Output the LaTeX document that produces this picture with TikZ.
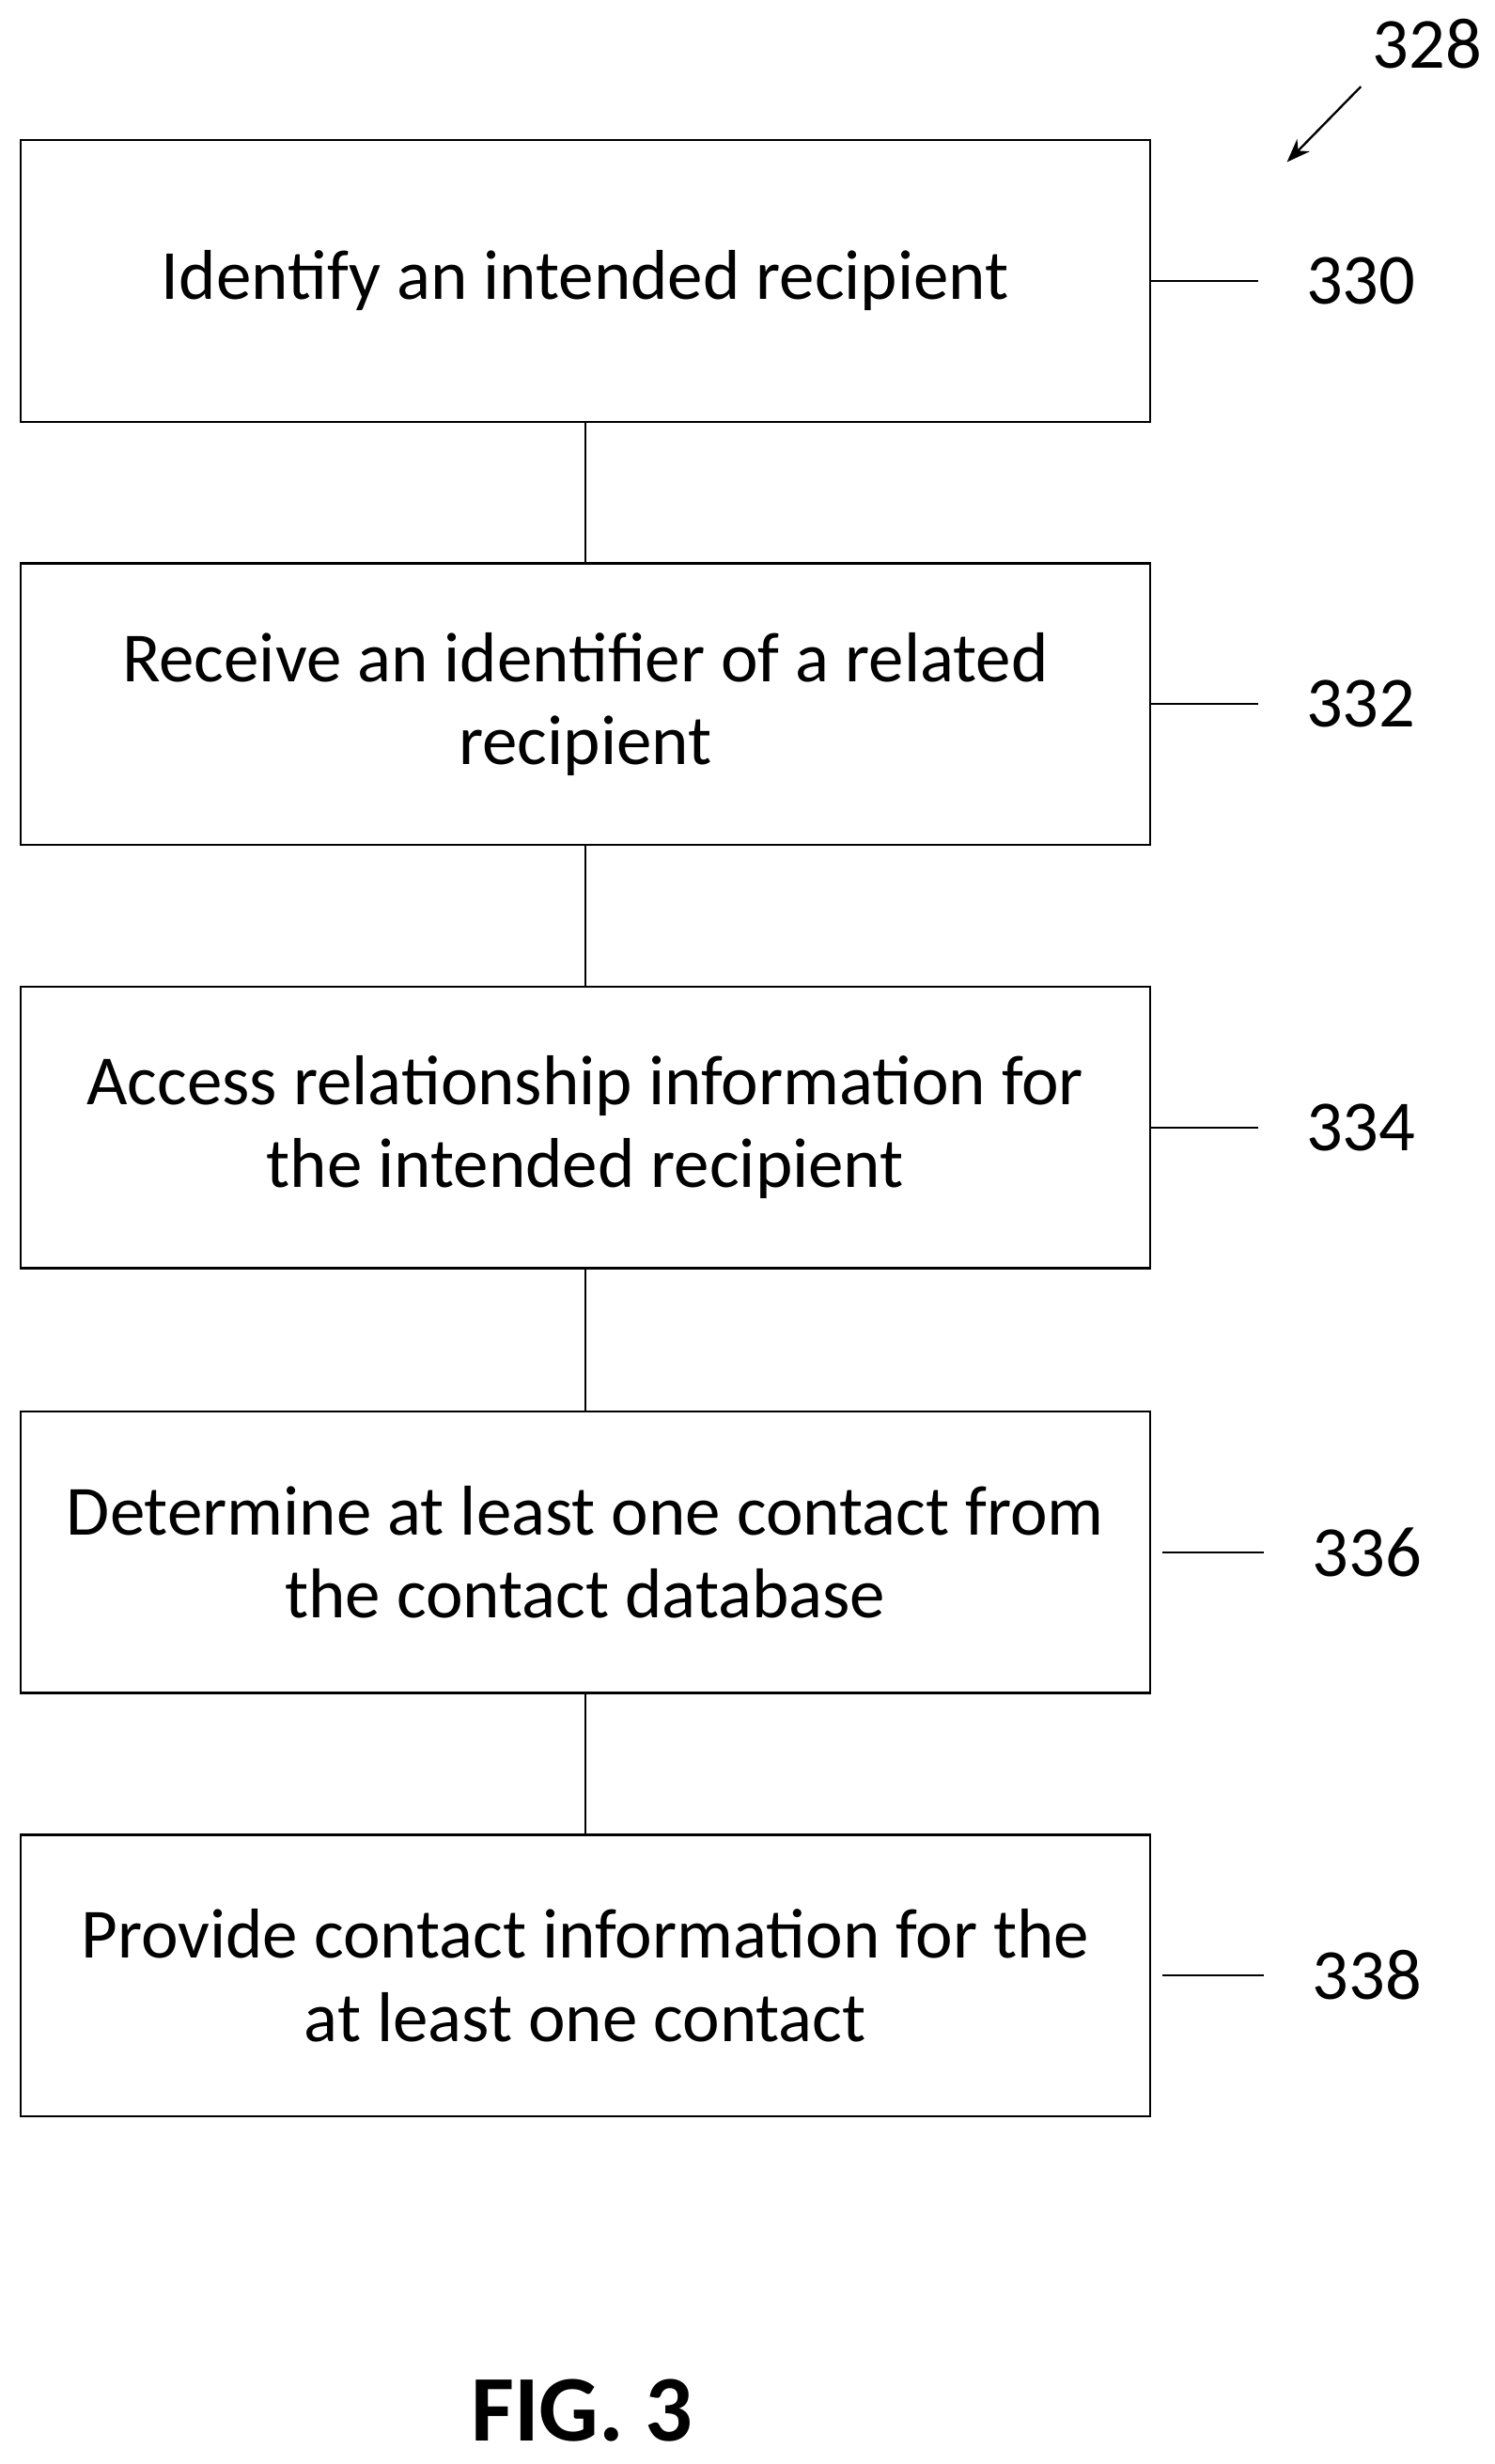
\documentclass[tikz,border=0pt]{standalone}
\usepackage{fontspec}
\setmainfont{Carlito}
\usetikzlibrary{arrows.meta,positioning}
\begin{document}
\begin{tikzpicture}[
  x=0.02cm, y=-0.02cm,
  box/.style={rectangle, draw=black, thick, align=center, minimum width=14.36cm, minimum height=3.58cm, font=\fontsize{25.5}{30}\selectfont},
  ref/.style={font=\fontsize{26}{30}\selectfont},
  link/.style={thick}
]
\useasboundingbox (0,0) rectangle (950,1566);
\node[box] (s1) at (372,178.5) {Identify an intended recipient};
\node[box] (s2) at (372,447.5) {Receive an identifier of a related\\recipient};
\node[box] (s3) at (372,716.5) {Access relationship information for\\the intended recipient};
\node[box] (s4) at (372,986.5) {Determine at least one contact from\\the contact database};
\node[box] (s5) at (372,1255.5) {Provide contact information for the\\at least one contact};

\draw[link] (s1) -- (s2);
\draw[link] (s2) -- (s3);
\draw[link] (s3) -- (s4);
\draw[link] (s4) -- (s5);

% reference numerals
\node[ref] (r1) at (865,178.5) {330};
\node[ref] (r2) at (865,447.5) {332};
\node[ref] (r3) at (865,716.5) {334};
\node[ref] (r4) at (869,986.5) {336};
\node[ref] (r5) at (869,1255.5) {338};
\draw[link] (s1.east) -- ([xshift=-14]r1.west);
\draw[link] (s2.east) -- ([xshift=-14]r2.west);
\draw[link] (s3.east) -- ([xshift=-14]r3.west);
\draw[link] ([xshift=4]s4.east) -- ([xshift=-14]r4.west);
\draw[link] ([xshift=4]s5.east) -- ([xshift=-14]r5.west);

\node[ref] (fig) at (907,28) {328};
\coordinate (tip) at (818,103);
\draw[link, -{Stealth[length=3mm]}] (865,55) -- (tip);

\node[font=\bfseries\fontsize{34}{40}\selectfont] (title) at (370,1532) {FIG. 3};
\end{tikzpicture}
\end{document}
